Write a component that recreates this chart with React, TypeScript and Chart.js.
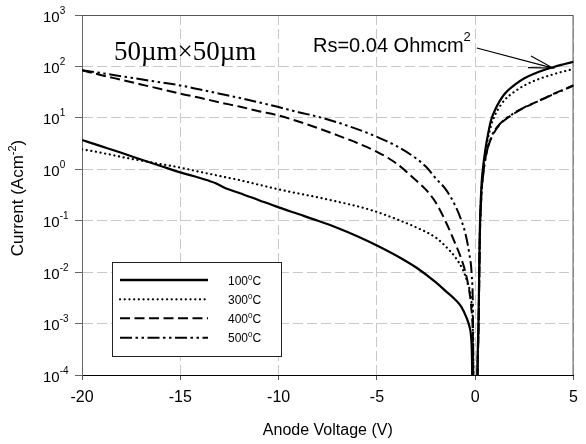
import React, { useEffect, useRef } from "react";
import { Chart, registerables } from "chart.js";

Chart.register(...registerables);

const SANS = '"Liberation Sans", Arial, sans-serif';
const SERIF = '"Liberation Serif", "Times New Roman", serif';

// Legend labels (temperature in degrees C)
const seriesLabels = ["100", "300", "400", "500"];

// y-axis decades (exponents of 10)
const yExponents = [-4, -3, -2, -1, 0, 1, 2, 3];
const xTickValues = [-20, -15, -10, -5, 0, 5];

// 100 C
const v100 = [-20, -19, -18, -17, -16, -15, -14, -13.2, -12.7, -12, -11, -10, -9, -8, -7, -6, -5, -4, -3, -2, -1.5, -1, -0.7, -0.45, -0.3, -0.22, -0.17, -0.12, 0.08, 0.12, 0.17, 0.23, 0.32, 0.4, 0.5, 0.6, 0.8, 1, 1.25, 1.5, 2, 2.5, 3, 3.5, 4, 4.5, 5];
const j100 = [3.72, 2.79, 2.09, 1.55, 1.16, 0.871, 0.676, 0.537, 0.427, 0.347, 0.251, 0.182, 0.135, 0.1, 0.0724, 0.0501, 0.0331, 0.0209, 0.0123, 0.00631, 0.00427, 0.00288, 0.00209, 0.00132, 0.000891, 0.000603, 0.000251, 0.00001, 0.00001, 0.0002, 0.0013, 0.056, 0.5, 1.1, 2.2, 3.8, 8.9, 14.1, 21.4, 29.5, 43.7, 58.9, 72.4, 85.1, 97.7, 110, 123];

// 300 C
const v300 = [-20, -19, -18, -17, -16, -15, -14, -13, -12, -11, -10, -9, -8, -7, -6, -5, -4, -3, -2, -1.5, -1, -0.6, -0.4, -0.2, -0.12, -0.07, 0.08, 0.12, 0.17, 0.23, 0.32, 0.4, 0.5, 0.6, 0.8, 1, 1.25, 1.5, 2, 2.5, 3, 3.5, 4, 4.5, 5];
const j300 = [2.45, 2.09, 1.74, 1.48, 1.26, 1.08, 0.891, 0.741, 0.617, 0.501, 0.407, 0.339, 0.285, 0.234, 0.191, 0.148, 0.107, 0.0741, 0.0468, 0.0316, 0.0191, 0.0105, 0.00631, 0.00282, 0.000794, 0.00001, 0.00001, 0.00015, 0.001, 0.045, 0.42, 0.95, 1.9, 3.2, 7.0, 11.2, 16.6, 22.4, 32.4, 42.7, 52.5, 61.7, 70.8, 80, 89.1];

// 400 C
const v400 = [-20, -19, -18, -17, -16, -15, -14, -13, -12, -11, -10, -9, -8, -7, -6, -5, -4, -3, -2.5, -2, -1.5, -1, -0.7, -0.5, -0.3, -0.2, -0.12, -0.07, 0.08, 0.12, 0.17, 0.23, 0.32, 0.4, 0.5, 0.6, 0.8, 1, 1.25, 1.5, 2, 2.5, 3, 3.5, 4, 4.5, 5];
const j400 = [84.1, 67.6, 55.0, 44.7, 36.3, 29.5, 24.5, 20.0, 16.6, 13.5, 11.1, 8.51, 6.31, 4.57, 3.24, 2.19, 1.29, 0.603, 0.398, 0.224, 0.0955, 0.0347, 0.0178, 0.01, 0.00417, 0.002, 0.0005, 0.00001, 0.00001, 0.00013, 0.0009, 0.04, 0.35, 0.8, 1.5, 2.3, 3.9, 5.5, 7.4, 9.1, 12.3, 15.8, 19.5, 24.0, 29.5, 35.5, 43.2];

// 500 C
const v500 = [-20, -19, -18, -17, -16, -15, -14, -13, -12, -11, -10, -9, -8, -7, -6, -5, -4, -3, -2.5, -2, -1.5, -1, -0.7, -0.5, -0.3, -0.18, -0.12, -0.07, 0.08, 0.12, 0.17, 0.23, 0.32, 0.4, 0.5, 0.6, 0.8, 1, 1.25, 1.5, 2, 2.5, 3, 3.5, 4, 4.5, 5];
const j500 = [84.1, 74.1, 64.6, 56.2, 49.0, 42.7, 35.5, 29.5, 24.5, 20.0, 16.2, 12.9, 10.5, 8.13, 6.03, 4.27, 2.82, 1.62, 1.12, 0.661, 0.407, 0.191, 0.1, 0.0562, 0.0224, 0.00891, 0.002, 0.00001, 0.00001, 0.00013, 0.0009, 0.04, 0.33, 0.75, 1.45, 2.3, 4.1, 5.8, 7.6, 9.3, 12.6, 16, 19.5, 23.7, 29.0, 35.0, 42.5];

// Annotation arrow target (data coords)
const arrowTipV = 3.95;
const arrowTipJ = 93;

const toPts = (xs: number[], ys: number[]) => xs.map((x, i) => ({ x, y: ys[i] }));

function drawSup(ctx: CanvasRenderingContext2D, x: number, y: number, base: string, sup: string, size: number, supSize: number, rise: number, tail = "") {
  ctx.font = `${size}px ${SANS}`;
  ctx.fillText(base, x, y);
  let cx = x + ctx.measureText(base).width;
  ctx.font = `${supSize}px ${SANS}`;
  ctx.fillText(sup, cx, y - rise);
  cx += ctx.measureText(sup).width;
  if (tail) {
    ctx.font = `${size}px ${SANS}`;
    ctx.fillText(tail, cx, y);
    cx += ctx.measureText(tail).width;
  }
  return cx;
}

const decorPlugin = {
  id: "decor",
  beforeDatasetsDraw(chart: any) {
    const { ctx, chartArea: a } = chart;
    ctx.save();
    ctx.strokeStyle = "#555";
    ctx.lineWidth = 1;
    ctx.beginPath();
    ctx.moveTo(a.left, a.top + 0.5);
    ctx.lineTo(a.right - 0.5, a.top + 0.5);
    ctx.lineTo(a.right - 0.5, a.bottom);
    ctx.stroke();
    ctx.restore();
  },
  afterDraw(chart: any) {
    const { ctx, chartArea: a } = chart;
    const xs = chart.scales.x;
    const ys = chart.scales.y;
    ctx.save();
    ctx.fillStyle = "#000";
    ctx.textBaseline = "alphabetic";
    ctx.textAlign = "left";

    // y tick labels 10^n
    for (const e of yExponents) {
      const py = ys.getPixelForValue(Math.pow(10, e));
      drawSup(ctx, 43, py + 6.5, "10", String(e), 15, 10, 8);
    }

    // y title
    ctx.save();
    ctx.translate(23, 198);
    ctx.rotate(-Math.PI / 2);
    const part1 = "Current (Acm";
    ctx.font = `17px ${SANS}`;
    const w1 = ctx.measureText(part1).width;
    ctx.font = `11px ${SANS}`;
    const w2 = ctx.measureText("-2").width;
    ctx.font = `17px ${SANS}`;
    const w3 = ctx.measureText(")").width;
    const total = w1 + w2 + w3;
    drawSup(ctx, -total / 2, 0, part1, "-2", 17, 11, 7, ")");
    ctx.restore();

    // x title
    ctx.font = `16px ${SANS}`;
    ctx.textAlign = "center";
    ctx.fillText("Anode Voltage (V)", (a.left + a.right) / 2, 435);
    ctx.textAlign = "left";

    // 50um x 50um label
    ctx.font = `27px ${SERIF}`;
    ctx.fillText("50\u00b5m\u00d750\u00b5m", 114, 60);

    // Rs annotation
    const endX = drawSup(ctx, 313, 52, "Rs=0.04 Ohmcm", "2", 20, 13, 11);
    const tipX = xs.getPixelForValue(arrowTipV);
    const tipY = ys.getPixelForValue(arrowTipJ);
    const sx = endX + 6;
    const sy = 48;
    ctx.strokeStyle = "#000";
    ctx.lineWidth = 1.2;
    ctx.beginPath();
    ctx.moveTo(sx, sy);
    ctx.lineTo(tipX, tipY);
    const ang = Math.atan2(tipY - sy, tipX - sx);
    const L = 25;
    const h = (14 * Math.PI) / 180;
    ctx.moveTo(tipX - L * Math.cos(ang - h), tipY - L * Math.sin(ang - h));
    ctx.lineTo(tipX, tipY);
    ctx.lineTo(tipX - L * Math.cos(ang + h), tipY - L * Math.sin(ang + h));
    ctx.stroke();

    // Legend box
    const lg = { l: 112, t: 262, r: 281, b: 356 };
    ctx.fillStyle = "#fff";
    ctx.fillRect(lg.l, lg.t, lg.r - lg.l, lg.b - lg.t);
    ctx.strokeStyle = "#222";
    ctx.lineWidth = 1;
    ctx.strokeRect(lg.l + 0.5, lg.t + 0.5, lg.r - lg.l, lg.b - lg.t);
    const rowY = [280, 299.3, 318.3, 337.7];
    chart.data.datasets.forEach((ds: any, i: number) => {
      const y = rowY[i];
      ctx.save();
      ctx.strokeStyle = "#000";
      ctx.lineWidth = i === 0 ? 2.6 : ds.borderWidth;
      ctx.lineCap = ds.borderCapStyle || "butt";
      ctx.setLineDash(ds.borderDash || []);
      ctx.beginPath();
      ctx.moveTo(120, y);
      ctx.lineTo(208, y);
      ctx.stroke();
      ctx.restore();
      ctx.fillStyle = "#000";
      drawSup(ctx, 228, y + 4.5, seriesLabels[i], "0", 12, 8, 5, "C");
    });
    ctx.restore();
  },
};

export default function App() {
  const ref = useRef<HTMLCanvasElement | null>(null);
  useEffect(() => {
    document.body.style.margin = "0";
    const canvas = ref.current;
    if (!canvas) return;
    const common = { borderColor: "#000", pointRadius: 0, fill: false, cubicInterpolationMode: "monotone" as const };
    const chart = new Chart(canvas, {
      type: "line",
      data: {
        datasets: [
          { ...common, label: "100", data: toPts(v100, j100), borderWidth: 2.2, borderDash: [] },
          { ...common, label: "300", data: toPts(v300, j300), borderWidth: 2.2, borderDash: [0.1, 4.6], borderCapStyle: "round" },
          { ...common, label: "400", data: toPts(v400, j400), borderWidth: 2, borderDash: [10, 4.5] },
          { ...common, label: "500", data: toPts(v500, j500), borderWidth: 2, borderDash: [12, 3.5, 2.5, 3.5, 2.5, 3.5] },
        ] as any,
      },
      options: {
        animation: false,
        responsive: false,
        devicePixelRatio: 1,
        layout: { padding: { top: 15, right: 4, left: 0, bottom: 0 } },
        plugins: { legend: { display: false }, tooltip: { enabled: false } },
        scales: {
          x: {
            type: "linear",
            min: -20,
            max: 5,
            afterBuildTicks: (s: any) => {
              s.ticks = xTickValues.map((v) => ({ value: v }));
            },
            afterFit: (s: any) => {
              s.height = 69;
            },
            ticks: { font: { family: SANS, size: 16 }, color: "#000", padding: 8, maxRotation: 0 },
            grid: { color: "#c8c8c8", lineWidth: 1, tickLength: 5, tickColor: "#555", tickBorderDash: [] },
            border: { display: true, color: "#000", width: 1, dash: [10, 4] },
          },
          y: {
            type: "logarithmic",
            min: 1e-4,
            max: 1e3,
            afterBuildTicks: (s: any) => {
              s.ticks = yExponents.map((e) => ({ value: Math.pow(10, e) }));
            },
            afterFit: (s: any) => {
              s.width = 82;
            },
            ticks: { display: false },
            grid: { color: "#c8c8c8", lineWidth: 1, tickLength: 7, tickColor: "#666", tickBorderDash: [] },
            border: { display: true, color: "#666", width: 1, dash: [10, 4] },
          },
        },
      } as any,
      plugins: [decorPlugin],
    });
    return () => chart.destroy();
  }, []);
  return <canvas ref={ref} width={586} height={444} style={{ display: "block" }} />;
}
